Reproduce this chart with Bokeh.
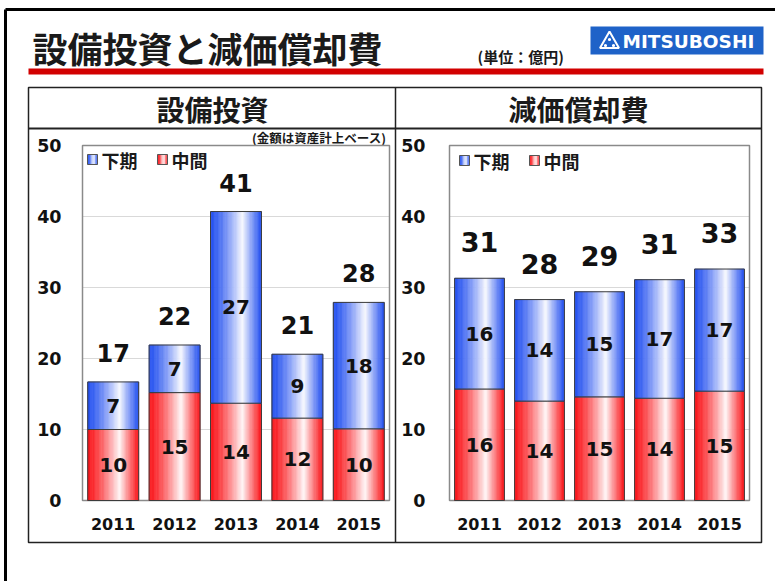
import numpy as np
from bokeh.plotting import figure
from bokeh.models import Range1d
from bokeh.core.properties import value
from bokeh.embed import file_html
from bokeh.resources import INLINE

# ---------------- data ----------------
years = ["2011", "2012", "2013", "2014", "2015"]
capex_mid = [10.0, 15.2, 13.7, 11.6, 10.1]      # 中間
capex_second = [6.7, 6.7, 27.0, 9.0, 17.8]      # 下期
dep_mid = [15.7, 14.0, 14.6, 14.4, 15.4]        # 中間
dep_second = [15.6, 14.3, 14.8, 16.7, 17.2]     # 下期
y_ticks = [0, 10, 20, 30, 40, 50]
legend_labels = ["下期", "中間"]

# ---------------- layout constants ----------------
W, H = 775, 581
ZERO_PX, FIFTY_PX = 500, 145
JP = value("Noto Sans CJK JP")
NUM = value("DejaVu Sans")
BLUE = (35, 80, 240)
RED = (250, 20, 25)

p = figure(width=W, height=H, x_range=Range1d(0, W), y_range=Range1d(H, 0),
           output_backend="svg", toolbar_location=None, min_border=0,
           x_axis_location=None, y_axis_location=None)
p.grid.visible = False
p.outline_line_color = None
p.background_fill_color = "white"
p.border_fill_color = "white"


def xrange_for(left, right, n):
    unit = (right - left) / n
    return Range1d(-0.5 - left / unit, n - 0.5 + (W - right) / unit)


unit_y = (ZERO_PX - FIFTY_PX) / 50.0
p.extra_x_ranges = {"cx1": xrange_for(82, 389, len(years)),
                    "cx2": xrange_for(449, 749, len(years))}
p.extra_y_ranges = {"vy": Range1d(-(H - ZERO_PX) / unit_y, ZERO_PX / unit_y)}


def grad_color(base, u):
    peak = 0.63
    if u < peak:
        f = (u / peak) ** 1.35
    else:
        f = ((1 - u) / (1 - peak)) ** 1.1
    f *= 0.97
    r, g, b = [int(round(c + (255 - c) * f)) for c in base]
    return "#%02x%02x%02x" % (r, g, b)


# ---------------- page decorations ----------------
p.segment(x0=[5], y0=[9], x1=[W], y1=[9], line_color="black", line_width=3)
p.segment(x0=[5], y0=[9], x1=[5], y1=[H], line_color="black", line_width=3)
p.text(x=[32], y=[47], text=["設備投資と減価償却費"], text_font=JP, text_font_style="bold",
       text_font_size="35px", text_baseline="middle", text_align="left", text_color="#1a1a1a")
p.text(x=[477], y=[56], text=["(単位：億円)"], text_font=JP, text_font_style="bold",
       text_font_size="15px", text_baseline="middle", text_align="left", text_color="#1a1a1a")
# logo
p.quad(left=[590], right=[763], top=[26], bottom=[54], fill_color="#1e62c8", line_color=None)
p.triangle(x=[609], y=[42], size=19, fill_color=None, line_color="white", line_width=2)
p.scatter(x=[609, 605, 613], y=[39, 45, 45], size=3.2, fill_color="white", line_color=None)
p.text(x=[622], y=[41], text=["MITSUBOSHI"], text_font=NUM, text_font_style="bold",
       text_font_size="18.5px", text_baseline="middle", text_align="left", text_color="white")
# red rule
p.quad(left=[28], right=[763], top=[68], bottom=[74], fill_color="#d20000", line_color=None)
# panel box
p.quad(left=[28], right=[761], top=[87], bottom=[542], fill_color=None,
       line_color="#222222", line_width=1.5)
p.segment(x0=[395, 28], y0=[87, 128], x1=[395, 761], y1=[542, 128],
          line_color="#222222", line_width=[1.5, 2])
p.text(x=[212, 578], y=[108, 108], text=["設備投資", "減価償却費"], text_font=JP,
       text_font_style="bold", text_font_size="28px", text_baseline="middle",
       text_align="center", text_color="#1a1a1a")
p.text(x=[386], y=[137], text=["(金額は資産計上ベース)"], text_font=JP, text_font_style="bold",
       text_font_size="12.5px", text_baseline="middle", text_align="right", text_color="#1a1a1a")


def legend(x0, y0):
    for base, ix, tx, lab in [(BLUE, x0, x0 + 14, legend_labels[0]),
                              (RED, x0 + 70, x0 + 84, legend_labels[1])]:
        n = 8
        lefts = [ix + k * 10 / n for k in range(n)]
        rights = [ix + (k + 1) * 10 / n + 0.2 for k in range(n)]
        cols = [grad_color(base, (k + 0.5) / n) for k in range(n)]
        p.quad(left=lefts, right=rights, top=[y0 - 5] * n, bottom=[y0 + 5] * n,
               fill_color=cols, line_color=None)
        p.quad(left=[ix], right=[ix + 10], top=[y0 - 5], bottom=[y0 + 5],
               fill_color=None, line_color="#555555", line_width=1)
        p.text(x=[tx], y=[y0], text=[lab], text_font=JP, text_font_style="bold",
               text_font_size="18px", text_baseline="middle", text_align="left",
               text_color="#1a1a1a")


def chart(xname, mids, seconds, tick_x, total_off, total_size):
    n = len(years)
    idx = np.arange(n)
    totals = [a + b for a, b in zip(mids, seconds)]
    p.segment(x0=[-0.5] * 4, x1=[n - 0.5] * 4, y0=y_ticks[1:-1], y1=y_ticks[1:-1],
              line_color="#d9d9d9", line_width=1, x_range_name=xname, y_range_name="vy")
    p.quad(left=[-0.5], right=[n - 0.5], bottom=[y_ticks[0]], top=[y_ticks[-1]],
           fill_color=None, line_color="#8a8a8a", line_width=1.5,
           x_range_name=xname, y_range_name="vy")
    bw = 0.83
    N = 40
    for bots, tops, base in [([0.0] * n, mids, RED), (mids, totals, BLUE)]:
        xs, bb, tt, cols = [], [], [], []
        for i in range(n):
            for k in range(N):
                u = (k + 0.5) / N
                xs.append(i - bw / 2 + u * bw)
                bb.append(bots[i])
                tt.append(tops[i])
                cols.append(grad_color(base, u))
        p.vbar(x=xs, width=bw / N, bottom=bb, top=tt, fill_color=cols,
               line_color=cols, line_width=0.6, x_range_name=xname, y_range_name="vy")
        p.vbar(x=idx, width=bw, bottom=bots, top=tops, fill_color=None,
               line_color="#3c3c3c", line_width=1, x_range_name=xname, y_range_name="vy")
    p.text(x=idx, y=[m / 2 for m in mids], text=[f"{m:.0f}" for m in mids], text_font=NUM,
           text_font_style="bold", text_font_size="20px", text_align="center",
           text_baseline="middle", text_color="#111111", x_range_name=xname, y_range_name="vy")
    p.text(x=idx, y=[m + s / 2 for m, s in zip(mids, seconds)],
           text=[f"{s:.0f}" for s in seconds], text_font=NUM, text_font_style="bold",
           text_font_size="20px", text_align="center", text_baseline="middle",
           text_color="#111111", x_range_name=xname, y_range_name="vy")
    p.text(x=idx, y=totals, y_offset=-total_off, text=[f"{t:.0f}" for t in totals],
           text_font=NUM, text_font_style="bold", text_font_size=total_size,
           text_align="center", text_baseline="middle", text_color="#111111",
           x_range_name=xname, y_range_name="vy")
    p.text(x=[tick_x] * len(y_ticks), y=y_ticks, text=[str(t) for t in y_ticks],
           text_font=NUM, text_font_style="bold", text_font_size="17.5px", text_align="right",
           text_baseline="middle", text_color="#111111", y_range_name="vy")
    p.text(x=idx, y=[523] * n, text=years, text_font=NUM, text_font_style="bold",
           text_font_size="16px", text_align="center", text_baseline="middle",
           text_color="#111111", x_range_name=xname)


chart("cx1", capex_mid, capex_second, 61, 29, "24px")
chart("cx2", dep_mid, dep_second, 425, 36, "27px")
legend(87, 159)
legend(459, 160)

open("out.html", "w").write(file_html(p, INLINE))
